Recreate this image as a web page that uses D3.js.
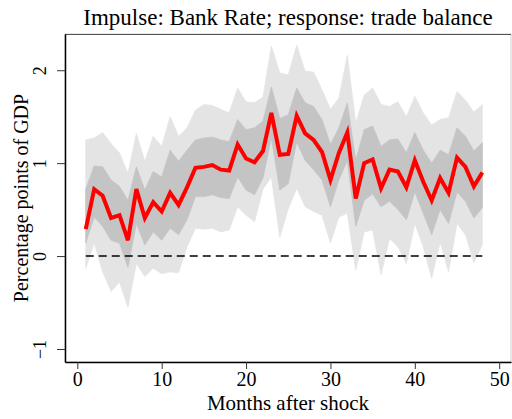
<!DOCTYPE html>
<html>
<head>
<meta charset="utf-8">
<script src="https://cdn.jsdelivr.net/npm/d3@7"></script>
<style>
  html, body { margin: 0; padding: 0; background: #fff; }
  svg { display: block; }
  text { font-family: "Liberation Serif", "DejaVu Serif", serif; fill: #000; }
</style>
</head>
<body>
<svg id="chart" width="512" height="419"></svg>
<script>
// Impulse response of the trade balance to a Bank Rate shock, months 1..48
const months = d3.range(1, 49);

const response = [
  0.29, 0.72, 0.65, 0.41, 0.44, 0.17, 0.72, 0.41, 0.58, 0.48,
  0.68, 0.55, 0.74, 0.95, 0.96, 0.98, 0.93, 0.92, 1.20, 1.05,
  1.01, 1.13, 1.54, 1.09, 1.10, 1.51, 1.32, 1.25, 1.12, 0.82,
  1.11, 1.33, 0.62, 1.00, 1.04, 0.73, 0.93, 0.91, 0.74, 1.03,
  0.80, 0.60, 0.84, 0.68, 1.06, 0.96, 0.75, 0.90
];

// outer confidence band
const outerUpper = [
  1.25, 1.27, 1.33, 1.21, 1.11, 0.89, 1.32, 1.02, 1.29, 1.18,
  1.50, 1.29, 1.38, 1.57, 1.63, 1.62, 1.58, 1.54, 1.81, 1.66,
  1.65, 1.71, 2.26, 1.97, 1.95, 2.27, 1.99, 1.98, 1.79, 1.58,
  1.70, 2.16, 1.43, 1.73, 1.81, 1.63, 1.61, 1.66, 1.50, 1.72,
  1.54, 1.41, 1.47, 1.49, 1.77, 1.68, 1.55, 1.63
];
const outerLower = [
  -0.13, 0.14, -0.17, -0.38, -0.28, -0.55, -0.08, -0.22, -0.13, -0.19,
  -0.17, -0.18, 0.10, 0.30, 0.29, 0.30, 0.26, 0.28, 0.53, 0.44,
  0.37, 0.72, 0.85, 0.20, 0.51, 0.73, 0.53, 0.48, 0.44, 0.14,
  0.42, 0.46, -0.15, 0.26, 0.28, -0.20, 0.19, 0.10, -0.08, 0.35,
  0.10, -0.24, 0.15, -0.17, 0.35, 0.23, -0.07, 0.12
];

// inner confidence band
const innerUpper = [
  0.72, 0.97, 0.96, 0.82, 0.75, 0.60, 0.96, 0.71, 0.91, 0.85,
  1.14, 1.02, 1.14, 1.25, 1.27, 1.28, 1.25, 1.23, 1.47, 1.36,
  1.38, 1.45, 1.82, 1.48, 1.52, 1.81, 1.65, 1.61, 1.47, 1.20,
  1.38, 1.65, 1.03, 1.36, 1.40, 1.18, 1.25, 1.26, 1.11, 1.33,
  1.14, 1.00, 1.14, 1.09, 1.38, 1.29, 1.13, 1.22
];
const innerLower = [
  0.14, 0.42, 0.32, 0.17, 0.14, -0.12, 0.35, 0.12, 0.26, 0.17,
  0.30, 0.23, 0.39, 0.64, 0.64, 0.66, 0.63, 0.62, 0.85, 0.71,
  0.66, 0.84, 1.27, 0.71, 0.78, 1.23, 1.03, 0.93, 0.82, 0.53,
  0.82, 1.03, 0.32, 0.60, 0.67, 0.53, 0.59, 0.50, 0.39, 0.69,
  0.46, 0.23, 0.50, 0.35, 0.69, 0.59, 0.41, 0.52
];

const xTicks = [0, 10, 20, 30, 40, 50];
const yTicks = [-1, 0, 1, 2];

const titleText = "Impulse: Bank Rate; response: trade balance";
const xTitle = "Months after shock";
const yTitle = "Percentage points of GDP";

const svg = d3.select("#chart");
const plot = { left: 65, right: 511, top: 34, bottom: 362 };

const x = d3.scaleLinear().domain([-1.46, 51.4]).range([plot.left, plot.right]);
const y = d3.scaleLinear().domain([-1.14, 2.39]).range([plot.bottom, plot.top]);

// plot region border
svg.append("rect")
  .attr("x", plot.left).attr("y", plot.top)
  .attr("width", plot.right - plot.left).attr("height", plot.bottom - plot.top)
  .attr("fill", "none").attr("stroke", "#cfcfcf").attr("stroke-width", 1);
svg.append("line")
  .attr("x1", plot.left).attr("x2", plot.right)
  .attr("y1", plot.top + 0.5).attr("y2", plot.top + 0.5)
  .attr("stroke", "#555").attr("stroke-width", 1.2);

const band = (lo, hi) => d3.area()
  .x((d, i) => x(months[i]))
  .y0((d, i) => y(lo[i]))
  .y1((d, i) => y(hi[i]));

svg.append("path")
  .attr("d", band(outerLower, outerUpper)(months))
  .attr("fill", "#e4e4e4")
  .attr("stroke", "#e4e4e4").attr("stroke-width", 0.8);

svg.append("path")
  .attr("d", band(innerLower, innerUpper)(months))
  .attr("fill", "#c4c4c4")
  .attr("stroke", "#c4c4c4").attr("stroke-width", 0.8);

// zero reference line
svg.append("line")
  .attr("x1", x(months[0])).attr("x2", x(months[months.length - 1]))
  .attr("y1", y(0)).attr("y2", y(0))
  .attr("stroke", "#000").attr("stroke-width", 1.5)
  .attr("stroke-dasharray", "8,5");

// point estimate
svg.append("path")
  .attr("d", d3.line().x((d, i) => x(months[i])).y(d => y(d))(response))
  .attr("fill", "none")
  .attr("stroke", "#ff0000")
  .attr("stroke-width", 4)
  .attr("stroke-linejoin", "miter")
  .attr("stroke-miterlimit", 4);

// axes
const xAxis = svg.append("g")
  .attr("transform", `translate(0,${plot.bottom})`)
  .call(d3.axisBottom(x).tickValues(xTicks).tickSize(7).tickPadding(3).tickSizeOuter(0));
xAxis.select(".domain").attr("stroke", "#000").attr("stroke-width", 1.5);
xAxis.selectAll(".tick line").attr("stroke", "#333");
xAxis.selectAll(".tick text")
  .style("font-family", '"Liberation Serif", serif')
  .style("font-size", "20px");

const yAxis = svg.append("g")
  .attr("transform", `translate(${plot.left},0)`)
  .call(d3.axisLeft(y).tickValues(yTicks).tickSize(8).tickSizeOuter(0).tickFormat(d3.format("d")));
yAxis.select(".domain").attr("stroke", "#000").attr("stroke-width", 1.5);
yAxis.selectAll(".tick line").attr("stroke", "#333");
yAxis.selectAll(".tick text")
  .attr("x", 0).attr("dy", null)
  .attr("transform", "translate(-19,0) rotate(-90)")
  .attr("text-anchor", "middle")
  .style("font-family", '"Liberation Serif", serif')
  .style("font-size", "18px");

// titles
svg.append("text")
  .attr("x", (plot.left + plot.right) / 2).attr("y", 25)
  .attr("text-anchor", "middle")
  .style("font-size", "23px")
  .text(titleText);

svg.append("text")
  .attr("x", (plot.left + plot.right) / 2).attr("y", 410)
  .attr("text-anchor", "middle")
  .style("font-size", "21px")
  .text(xTitle);

svg.append("text")
  .attr("transform", `translate(28,${(plot.top + plot.bottom) / 2}) rotate(-90)`)
  .attr("text-anchor", "middle")
  .style("font-size", "20px")
  .text(yTitle);
</script>
</body>
</html>
